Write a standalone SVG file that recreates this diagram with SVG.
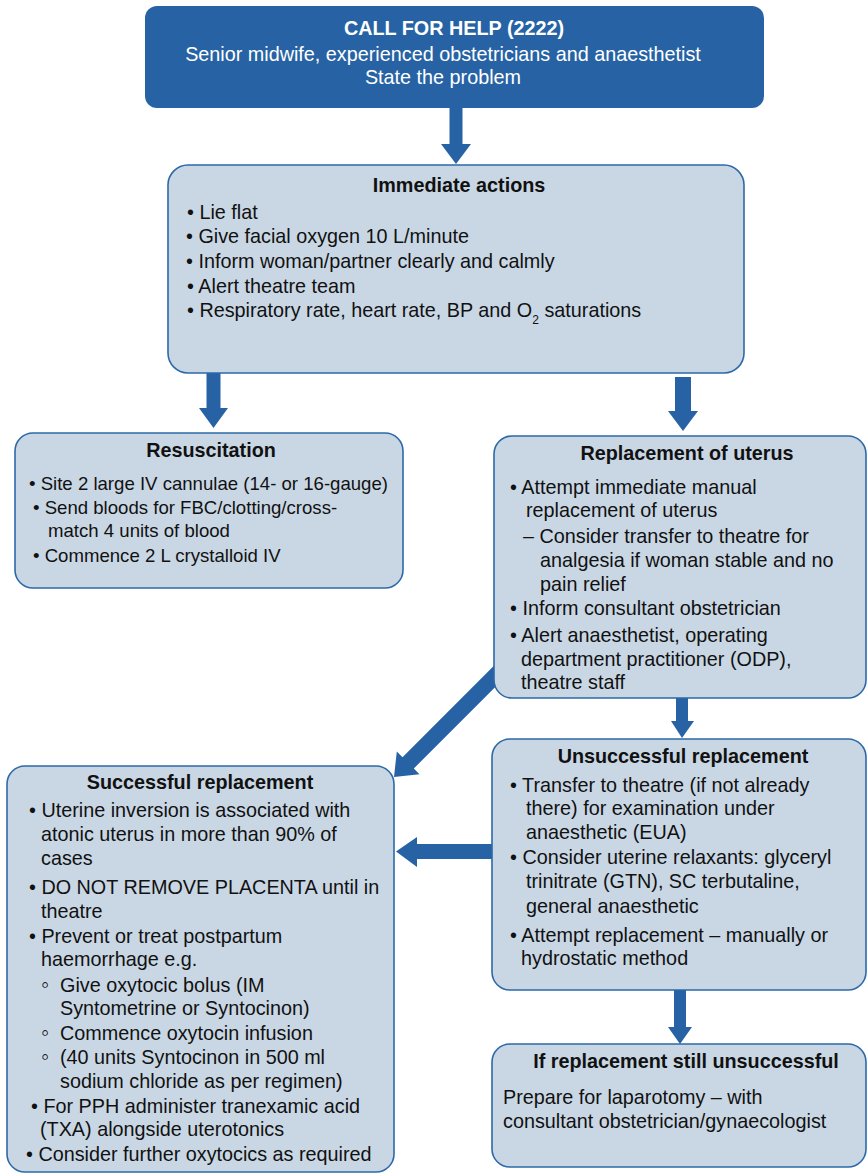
<svg xmlns="http://www.w3.org/2000/svg" width="867" height="1173" viewBox="0 0 867 1173">
<style>
.box{fill:#c9d7e5;stroke:#2d69a8;stroke-width:1.6}
.top{fill:#2763a4}
.arr{fill:#2763a4}
text{font-family:"Liberation Sans",Arial,Helvetica,sans-serif;font-size:19.8px;fill:#111}
.t{font-weight:bold;text-anchor:middle}
.w{fill:#fff;text-anchor:middle}
.sub{font-size:12px}
.sm{font-size:18.6px}
.c{font-size:23px}
</style>
<rect width="867" height="1173" fill="#fff"/>
<g id="connectors">
<polygon class="arr" points="449.5,108 462.5,108 462.5,144 471,144 456,164 441,144 449.5,144"/>
<polygon class="arr" points="206.5,373 220.5,373 220.5,408 228,408 213.5,428 199,408 206.5,408"/>
<polygon class="arr" points="675,377 691,377 691,411 698,411 683,431 668,411 675,411"/>
<polygon class="arr" points="676,698 688,698 688,721 694,721 682,738 671,721 676,721"/>
<polygon class="arr" points="497.9,661.7 509.3,673.1 413.8,768.5 419.5,774.2 394,777 396.8,751.6 402.5,757.2"/>
<polygon class="arr" points="492,844 492,859 417,859 417,867 396,851.5 417,837 417,844"/>
<polygon class="arr" points="674,990 686,990 686,1027 692,1027 680,1044 668,1027 674,1027"/>
</g>
<g id="call-for-help">
<rect class="top" x="145" y="6" width="619" height="102" rx="12"/>
<text class="w" x="454" y="35" font-weight="bold">CALL FOR HELP (2222)</text>
<text class="w" x="443" y="61">Senior midwife, experienced obstetricians and anaesthetist</text>
<text class="w" x="443" y="84">State the problem</text>
</g>
<g id="immediate-actions">
<rect class="box" x="168" y="165" width="576" height="208" rx="20"/>
<text class="t" x="459" y="192">Immediate actions</text>
<text x="187" y="219">• Lie flat</text>
<text x="186" y="243">• Give facial oxygen 10 L/minute</text>
<text x="186" y="268">• Inform woman/partner clearly and calmly</text>
<text x="187" y="293">• Alert theatre team</text>
<text x="187" y="317">• Respiratory rate, heart rate, BP and O<tspan class="sub" dy="7">2</tspan><tspan dy="-7"> saturations</tspan></text>
</g>
<g id="resuscitation">
<rect class="box" x="15" y="433" width="388" height="155" rx="18"/>
<text class="t" x="211" y="457">Resuscitation</text>
<text class="sm" x="29" y="490">• Site 2 large IV cannulae (14- or 16-gauge)</text>
<text class="sm" x="33" y="514">• Send bloods for FBC/clotting/cross-</text>
<text class="sm" x="48" y="537">match 4 units of blood</text>
<text class="sm" x="33" y="562">• Commence 2 L crystalloid IV</text>
</g>
<g id="replacement-of-uterus">
<rect class="box" x="494" y="436" width="372" height="262" rx="18"/>
<text class="t" x="687" y="460">Replacement of uterus</text>
<text x="510" y="494">• Attempt immediate manual</text>
<text x="526" y="517">replacement of uterus</text>
<text x="523" y="543">– Consider transfer to theatre for</text>
<text x="540" y="567">analgesia if woman stable and no</text>
<text x="540" y="591">pain relief</text>
<text x="510" y="615">• Inform consultant obstetrician</text>
<text x="510" y="642">• Alert anaesthetist, operating</text>
<text x="521" y="666">department practitioner (ODP),</text>
<text x="521" y="689">theatre staff</text>
</g>
<g id="unsuccessful-replacement">
<rect class="box" x="492" y="739" width="374" height="251" rx="18"/>
<text class="t" x="683" y="763">Unsuccessful replacement</text>
<text x="510" y="792">• Transfer to theatre (if not already</text>
<text x="526" y="815">there) for examination under</text>
<text x="526" y="839">anaesthetic (EUA)</text>
<text x="510" y="864">• Consider uterine relaxants: glyceryl</text>
<text x="526" y="888">trinitrate (GTN), SC terbutaline,</text>
<text x="526" y="913">general anaesthetic</text>
<text x="510" y="942">• Attempt replacement – manually or</text>
<text x="521" y="965">hydrostatic method</text>
</g>
<g id="successful-replacement">
<rect class="box" x="7" y="766" width="387" height="406" rx="18"/>
<text class="t" x="200" y="789">Successful replacement</text>
<text x="29" y="817">• Uterine inversion is associated with</text>
<text x="41" y="841">atonic uterus in more than 90% of</text>
<text x="41" y="865">cases</text>
<text x="29" y="894">• DO NOT REMOVE PLACENTA until in</text>
<text x="41" y="918">theatre</text>
<text x="29" y="943">• Prevent or treat postpartum</text>
<text x="41" y="966">haemorrhage e.g.</text>
<text x="41" y="992"><tspan class="c">◦</tspan><tspan x="60">Give oxytocic bolus (IM</tspan></text>
<text x="60" y="1015">Syntometrine or Syntocinon)</text>
<text x="41" y="1040"><tspan class="c">◦</tspan><tspan x="60">Commence oxytocin infusion</tspan></text>
<text x="41" y="1064"><tspan class="c">◦</tspan><tspan x="60">(40 units Syntocinon in 500 ml</tspan></text>
<text x="60" y="1088">sodium chloride as per regimen)</text>
<text x="31" y="1113">• For PPH administer tranexamic acid</text>
<text x="40" y="1136">(TXA) alongside uterotonics</text>
<text x="26" y="1161">• Consider further oxytocics as required</text>
</g>
<g id="still-unsuccessful">
<rect class="box" x="492" y="1044" width="374" height="123" rx="18"/>
<text class="t" x="686" y="1068">If replacement still unsuccessful</text>
<text x="503" y="1104">Prepare for laparotomy – with</text>
<text x="503" y="1128">consultant obstetrician/gynaecologist</text>
</g>
</svg>
